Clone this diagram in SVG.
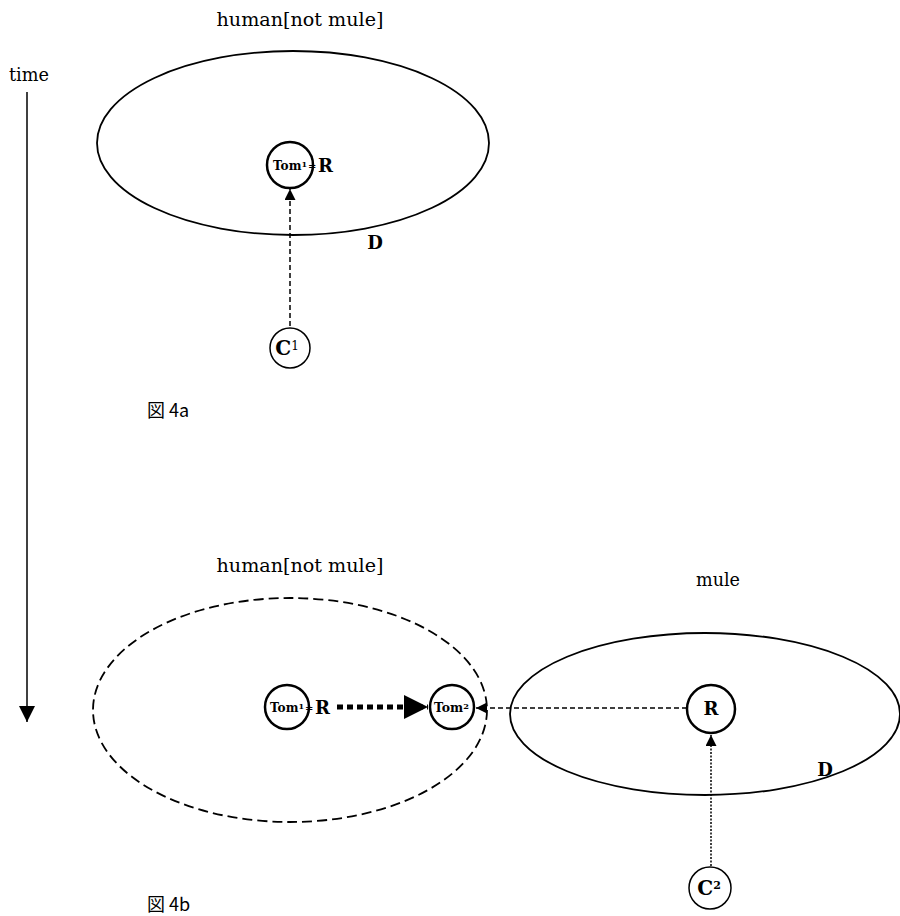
<svg xmlns="http://www.w3.org/2000/svg" width="900" height="916" viewBox="0 0 900 916">
<defs>
<style>
.lbl{font-family:"DejaVu Serif","Liberation Serif",serif;font-size:18px;fill:#000}
.b{font-family:"DejaVu Serif","Liberation Serif",serif;font-weight:bold;fill:#000}
.fig{font-family:"Noto Sans CJK JP","Noto Sans",sans-serif;font-size:18px;fill:#000}
.node{fill:#fff;stroke:#000;stroke-width:2.5}
.ell{fill:none;stroke:#000;stroke-width:1.8}
.dash{stroke:#000;stroke-width:1.5;stroke-dasharray:5,3;fill:none}
</style>
<marker id="ah" viewBox="0 0 10 10" refX="10" refY="5" markerWidth="11" markerHeight="11" markerUnits="userSpaceOnUse" orient="auto"><path d="M0,0L10,5L0,10z" fill="#000"/></marker>
<marker id="ahs" viewBox="0 0 10 10" refX="10" refY="5" markerWidth="17" markerHeight="16" markerUnits="userSpaceOnUse" orient="auto"><path d="M0,0L10,5L0,10z" fill="#000"/></marker>
<marker id="ahb" viewBox="0 0 10 10" refX="10" refY="5" markerWidth="26" markerHeight="24" markerUnits="userSpaceOnUse" orient="auto"><path d="M0,0L10,5L0,10z" fill="#000"/></marker>
</defs>

<text class="lbl" x="300" y="26" text-anchor="middle" textLength="167" lengthAdjust="spacingAndGlyphs">human[not mule]</text>
<text class="lbl" x="9" y="81" font-size="17" textLength="40" lengthAdjust="spacingAndGlyphs">time</text>
<text class="lbl" x="300" y="572" text-anchor="middle" textLength="167" lengthAdjust="spacingAndGlyphs">human[not mule]</text>
<text class="lbl" x="718" y="586" text-anchor="middle" textLength="44" lengthAdjust="spacingAndGlyphs">mule</text>

<g id="ellipse-a"><ellipse class="ell" cx="293" cy="143" rx="196" ry="92"/></g>
<g id="ellipse-b-human"><ellipse class="ell" cx="290" cy="710" rx="197" ry="112" stroke-dasharray="10,5"/></g>
<g id="ellipse-b-mule"><ellipse class="ell" cx="705" cy="714" rx="195" ry="81"/></g>

<g id="connectors">
<line x1="27" y1="92" x2="27" y2="722" stroke="#000" stroke-width="1.5" marker-end="url(#ahs)"/>
<line class="dash" x1="290" y1="326" x2="290" y2="189" marker-end="url(#ah)"/>
<line x1="337" y1="707" x2="428" y2="707" stroke="#000" stroke-width="5" stroke-dasharray="6,4" marker-end="url(#ahb)"/>
<line class="dash" x1="687" y1="708" x2="476" y2="708" marker-end="url(#ah)"/>
<line x1="711" y1="866" x2="711" y2="735" stroke="#000" stroke-width="1.5" stroke-dasharray="2,1.5" marker-end="url(#ah)"/>
</g>

<g id="tom1-a">
<circle class="node" cx="290" cy="165" r="23"/>
<text class="b" x="273" y="169.5" font-size="12" textLength="34" lengthAdjust="spacingAndGlyphs">Tom<tspan font-size="8" dy="-3">1</tspan></text>
<text class="b" x="308" y="169" font-size="10">=</text>
<text class="b" x="318" y="172" font-size="18">R</text>
</g>
<g id="c1">
<circle cx="290" cy="348" r="20" fill="#fff" stroke="#000" stroke-width="1.5"/>
<text class="b" x="287" y="355" text-anchor="middle" font-size="20">C<tspan font-size="12" font-weight="normal" dy="-5">1</tspan></text>
</g>
<text class="b" x="375" y="249" text-anchor="middle" font-size="18">D</text>

<g id="tom1-b">
<circle class="node" cx="287" cy="707" r="22"/>
<text class="b" x="270" y="711.5" font-size="12" textLength="34" lengthAdjust="spacingAndGlyphs">Tom<tspan font-size="8" dy="-3">1</tspan></text>
<text class="b" x="305" y="711" font-size="10">=</text>
<text class="b" x="315" y="714" font-size="18">R</text>
</g>
<g id="tom2">
<circle class="node" cx="452" cy="707" r="22"/>
<text class="b" x="434" y="711.5" font-size="12" textLength="35" lengthAdjust="spacingAndGlyphs">Tom<tspan font-size="8" dy="-3">2</tspan></text>
</g>
<g id="r-mule">
<circle class="node" cx="711" cy="709" r="24"/>
<text class="b" x="711" y="715" text-anchor="middle" font-size="18">R</text>
</g>
<g id="c2">
<circle cx="710" cy="888" r="21" fill="#fff" stroke="#000" stroke-width="1.5"/>
<text class="b" x="709" y="895" text-anchor="middle" font-size="20">C<tspan font-size="11" dy="-6">2</tspan></text>
</g>
<text class="b" x="825" y="776" text-anchor="middle" font-size="18">D</text>

<text class="fig" x="147" y="417">図 4a</text>
<text class="fig" x="147" y="911">図 4b</text>
</svg>
